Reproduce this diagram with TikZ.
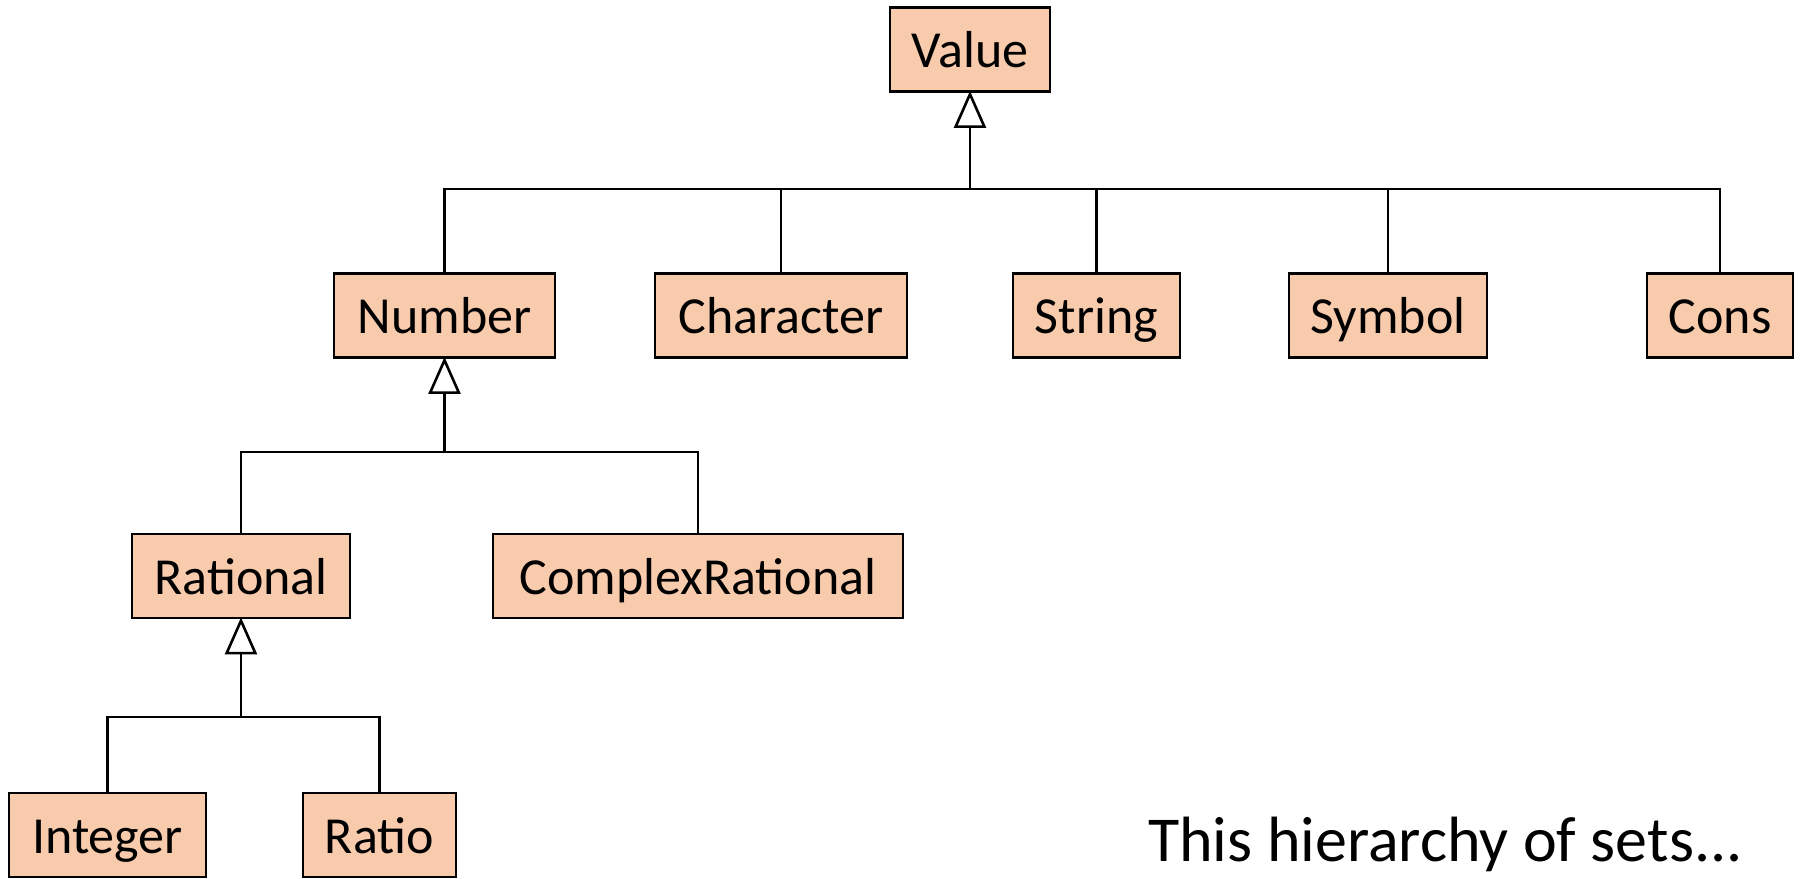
\documentclass[tikz,border=0pt]{standalone}
\usepackage{fontspec}
\setmainfont{Carlito}
\usetikzlibrary{arrows.meta}

\definecolor{boxfill}{RGB}{248,203,173}

\tikzset{
  classbox/.style={draw=black, fill=boxfill, line width=2.8pt, rectangle,
    minimum height=84pt, inner sep=0pt, text height=36pt, text depth=0pt,
    font=\fontsize{52}{60}\selectfont},
  link/.style={draw=black, line width=2.6pt},
  isa/.style={link, shorten >=-2pt, -{Triangle[open, length=37pt, width=32pt]}}
}

\begin{document}
\begin{tikzpicture}[x=1pt, y=-1pt]
  \useasboundingbox (0,0) rectangle (1801,878);

  % classes
  \node[classbox, minimum width=160pt] (val) at (970,49.5) {Value};

  \node[classbox, minimum width=221pt] (num)  at (444.5,315.5) {Number};
  \node[classbox, minimum width=252pt] (chr)  at (781,315.5)   {Character};
  \node[classbox, minimum width=167pt] (str)  at (1096.5,315.5){String};
  \node[classbox, minimum width=198pt] (sym)  at (1388,315.5)  {Symbol};
  \node[classbox, minimum width=146pt] (cons) at (1720,315.5)  {Cons};

  \node[classbox, minimum width=218pt] (rat)  at (241,576)   {Rational};
  \node[classbox, minimum width=410pt] (cplx) at (698,576)   {ComplexRational};

  \node[classbox, minimum width=197pt] (int)  at (107.5,835) {Integer};
  \node[classbox, minimum width=153pt] (ratio) at (379.5,835) {Ratio};

  % junction points of the generalisation trees
  \coordinate (j1) at (970,189);
  \coordinate (j2) at (444.5,452);
  \coordinate (j3) at (241,717);

  % subclasses of Value
  \foreach \c in {num,chr,str,sym,cons}
    \draw[link] (\c.north) |- (j1);
  \draw[isa] (j1) -- (val.south);

  % subclasses of Number
  \foreach \c in {rat,cplx}
    \draw[link] (\c.north) |- (j2);
  \draw[isa] (j2) -- (num.south);

  % subclasses of Rational
  \foreach \c in {int,ratio}
    \draw[link] (\c.north) |- (j3);
  \draw[isa] (j3) -- (rat.south);

  % caption
  \node[anchor=base west, inner sep=0pt, font=\fontsize{64}{72}\selectfont]
    (cap) at (1148,861) {This hierarchy of sets.{}.{}.};
\end{tikzpicture}
\end{document}
